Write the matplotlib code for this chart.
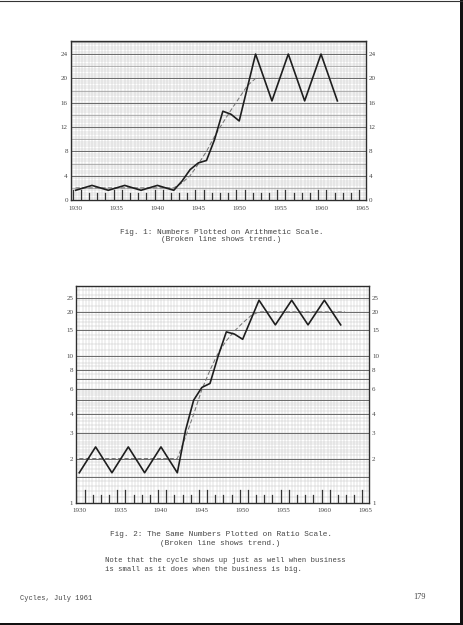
import numpy as np
import matplotlib
matplotlib.use("Agg")
import matplotlib.pyplot as plt
from matplotlib.lines import Line2D
from matplotlib.patches import Rectangle

# ---- data read from the page ----
years = [1930, 1932, 1934, 1936, 1938, 1940, 1942, 1943, 1944, 1945, 1946,
         1947, 1948, 1949, 1950, 1952, 1954, 1956, 1958, 1960, 1962]
values = [1.6, 2.4, 1.6, 2.4, 1.6, 2.4, 1.6, 3.1, 5.0, 6.1, 6.5,
          10.0, 14.6, 14.1, 13.0, 24.0, 16.3, 24.0, 16.3, 24.0, 16.3]
trend_years = [1930, 1942, 1943, 1944, 1945, 1946, 1947, 1948, 1949, 1950, 1951, 1952, 1962.5]
trend_values = [2.0, 2.0, 2.8, 4.0, 5.9, 8.0, 10.5, 12.7, 14.8, 16.8, 18.8, 20.0, 20.0]

x_labels = [1930, 1935, 1940, 1945, 1950, 1955, 1960, 1965]
arith_ticks = [0, 4, 8, 12, 16, 20, 24]
ratio_ticks = [1, 2, 3, 4, 6, 8, 10, 15, 20, 25]
ratio_major = [1.5, 2, 3, 4, 5, 6, 7, 8, 10, 15, 20, 25]

W, H = 463, 625
fig = plt.figure(figsize=(W / 100, H / 100), dpi=100)
fig.patch.set_facecolor("white")

TXT = "#454545"
FRAME = "#2e2e2e"
tick_font = dict(family="Liberation Serif", size=5.0, color=TXT)


def px_axes(l, t, r, b):
    return fig.add_axes([l / W, 1 - b / H, (r - l) / W, (b - t) / H])


def year_ticks(ax, tall, short):
    trans = ax.get_xaxis_transform()
    for k in range(37):
        x = 1929.65 + k
        if x < ax.get_xlim()[0] or x > ax.get_xlim()[1]:
            continue
        h = tall if (k % 5) in (0, 1) else short
        ax.add_line(Line2D([x, x], [0, h], transform=trans, color="#333333",
                           lw=0.9, zorder=3))


def vert_grid(ax):
    x0, x1 = ax.get_xlim()
    for x in np.arange(1929.6, 1966.0, 0.4):
        if x0 < x < x1:
            ax.axvline(x, color="#c4c4c4", lw=0.35, zorder=1)


def style_axes(ax):
    for s in ax.spines.values():
        s.set_color(FRAME)
        s.set_linewidth(1.0)
    ax.tick_params(axis="both", length=0, pad=2.0)
    ax.set_xticks(x_labels)
    ax.set_xticklabels([str(v) for v in x_labels], **tick_font)


# ---------- Fig. 1: arithmetic ----------
ax1 = px_axes(70.7, 40.7, 366, 200)
ax1.set_xlim(1929.4, 1965.5)
ax1.set_ylim(0, 26.2)
vert_grid(ax1)
for y in np.arange(0.4, 26.2, 0.4):
    ax1.axhline(y, color="#c4c4c4", lw=0.35, zorder=1)
for y in np.arange(2, 26.2, 4):
    ax1.axhline(y, color="#9a9a9a", lw=0.5, zorder=1)
for y in arith_ticks[1:]:
    ax1.axhline(y, color="#6a6a6a", lw=0.7, zorder=1)
ax1.plot(trend_years, trend_values, color="#777777", lw=0.75,
         dashes=(4, 2.2), zorder=4)
ax1.plot(years, values, color="#1e1e1e", lw=1.2, zorder=5)
year_ticks(ax1, 0.065, 0.042)
style_axes(ax1)
ax1.set_yticks(arith_ticks)
ax1.set_yticklabels([str(v) for v in arith_ticks], **tick_font)
ax1.tick_params(axis="y", labelright=True, right=False)
ax1.tick_params(axis="x", pad=4.5)

# ---------- Fig. 2: ratio ----------
ax2 = px_axes(76, 286, 369.3, 502.7)
ax2.set_yscale("log")
ax2.set_xlim(1929.6, 1965.5)
ax2.set_ylim(1, 30)
vert_grid(ax2)
fine = np.concatenate([np.arange(1.1, 3.0, 0.1), np.arange(3.0, 6.0, 0.2),
                       np.arange(6.0, 10.0, 0.5), np.arange(10, 20, 1),
                       np.arange(20, 30, 2)])
for y in fine:
    ax2.axhline(y, color="#c4c4c4", lw=0.35, zorder=1)
for y in ratio_major:
    ax2.axhline(y, color="#6a6a6a", lw=0.7, zorder=1)
ax2.plot(trend_years, trend_values, color="#777777", lw=0.75,
         dashes=(4, 2.2), zorder=4)
ax2.plot(years, values, color="#1e1e1e", lw=1.2, zorder=5)
year_ticks(ax2, 0.058, 0.036)
style_axes(ax2)
ax2.yaxis.set_minor_locator(matplotlib.ticker.NullLocator())
ax2.set_yticks(ratio_ticks)
ax2.set_yticklabels([str(v) for v in ratio_ticks], **tick_font)
ax2.tick_params(axis="y", labelright=True, right=False, which="both", length=0)
ax2.tick_params(axis="x", pad=3.5)

# ---------- captions ----------
cap = dict(family="Liberation Mono", color=TXT, ha="center", va="center")
fig.text(222 / W, 1 - 232.5 / H, "Fig. 1: Numbers Plotted on Arithmetic Scale.", size=5.6, **cap)
fig.text(221 / W, 1 - 239.5 / H, "(Broken line shows trend.)", size=5.6, **cap)
fig.text(221.5 / W, 1 - 534 / H, "Fig. 2: The Same Numbers Plotted on Ratio Scale.", size=5.6, **cap)
fig.text(220 / W, 1 - 543.3 / H, "(Broken line shows trend.)", size=5.6, **cap)
note = dict(family="Liberation Mono", color=TXT, ha="left", va="center", size=5.2)
fig.text(105 / W, 1 - 560 / H, "Note that the cycle shows up just as well when business", **note)
fig.text(105 / W, 1 - 569.3 / H, "is small as it does when the business is big.", **note)
fig.text(20 / W, 1 - 599 / H, "Cycles, July 1961", family="Liberation Mono", color=TXT,
         ha="left", va="center", size=5.0)
fig.text(420 / W, 1 - 597 / H, "179", family="Liberation Serif", color=TXT,
         ha="center", va="center", size=6.0)

# ---------- page edges of the scan ----------
fig.add_artist(Line2D([0, 1], [1 - 1.0 / H, 1 - 1.0 / H], transform=fig.transFigure,
                      color="#333333", lw=0.8))
fig.add_artist(Rectangle((459.5 / W, 0), 3.5 / W, 1, transform=fig.transFigure,
                         color="#111111", lw=0))
fig.add_artist(Rectangle((0, 0), 1, 2.0 / H, transform=fig.transFigure,
                         color="#111111", lw=0))

fig.savefig("out.png", dpi=100, facecolor="white")
